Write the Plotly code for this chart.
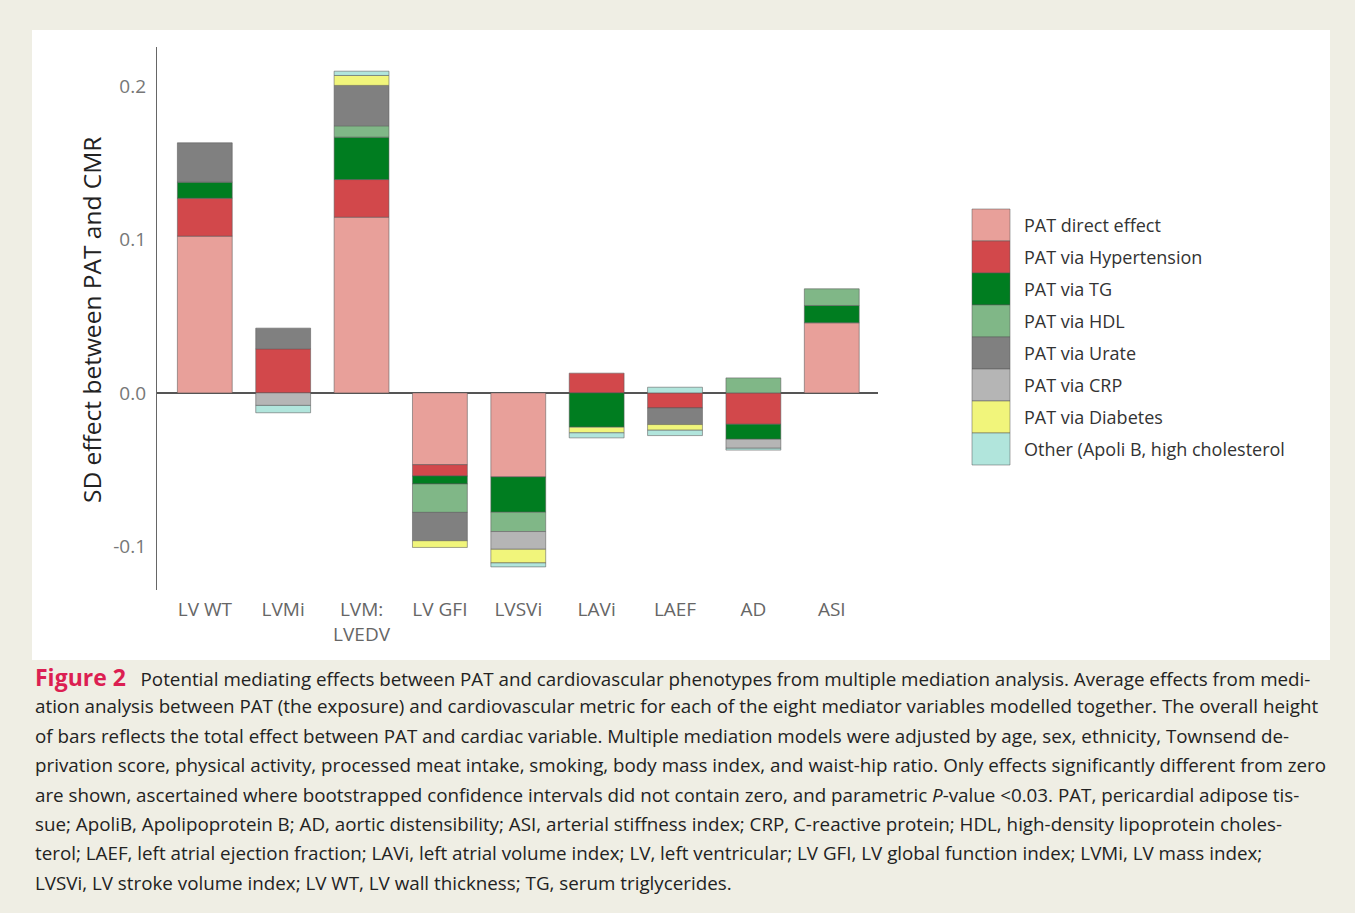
import plotly.graph_objects as go

categories = ["LV WT", "LVMi", "LVM:<br>LVEDV", "LV GFI", "LVSVi", "LAVi", "LAEF", "AD", "ASI"]

direct = [0.1024, None, 0.1148, -0.0469, -0.0549, None, None, None, 0.0458]
hypertension = [0.0248, 0.0288, 0.0246, -0.0074, None, 0.0129, -0.0098, -0.0205, None]
tg = [0.0105, None, 0.0277, -0.0052, -0.0231, -0.0224, None, -0.0098, 0.0113]
hdl = [None, None, 0.0074, -0.0186, -0.0126, None, None, 0.0098, 0.0109]
urate = [0.0257, 0.0135, 0.0264, -0.0185, None, None, -0.0109, None, None]
crp = [None, -0.0082, None, None, -0.0116, None, None, -0.0059, None]
diabetes = [None, None, 0.0065, -0.0044, -0.0089, -0.0037, -0.0037, None, None]
other = [None, -0.0048, 0.0028, None, -0.0026, -0.0033, -0.0035, -0.0012, None]
other_second = [None, None, None, None, None, None, 0.0037, None, None]

series_names = ["PAT direct effect", "PAT via Hypertension", "PAT via TG", "PAT via HDL",
                "PAT via Urate", "PAT via CRP", "PAT via Diabetes",
                "Other (Apoli B, high cholesterol"]
series_values = [direct, hypertension, tg, hdl, urate, crp, diabetes, other]
series_colors = ["#e8a09a", "#d2484b", "#007d20", "#80b787", "#808080", "#b5b5b5",
                 "#f1f57b", "#b1e5dc"]

caption_lines = [
    "<b><span style='color:#dc1f52;font-size:23px'>Figure 2</span></b>&nbsp;&nbsp; Potential mediating effects between PAT and cardiovascular phenotypes from multiple mediation analysis. Average effects from medi-",
    "ation analysis between PAT (the exposure) and cardiovascular metric for each of the eight mediator variables modelled together. The overall height",
    "of bars reflects the total effect between PAT and cardiac variable. Multiple mediation models were adjusted by age, sex, ethnicity, Townsend de-",
    "privation score, physical activity, processed meat intake, smoking, body mass index, and waist-hip ratio. Only effects significantly different from zero",
    "are shown, ascertained where bootstrapped confidence intervals did not contain zero, and parametric <i>P</i>-value &lt;0.03. PAT, pericardial adipose tis-",
    "sue; ApoliB, Apolipoprotein B; AD, aortic distensibility; ASI, arterial stiffness index; CRP, C-reactive protein; HDL, high-density lipoprotein choles-",
    "terol; LAEF, left atrial ejection fraction; LAVi, left atrial volume index; LV, left ventricular; LV GFI, LV global function index; LVMi, LV mass index;",
    "LVSVi, LV stroke volume index; LV WT, LV wall thickness; TG, serum triglycerides.",
]

W, H = 1355, 913
PL, PR, PT, PB = 157, 878, 47, 590  # plot area in pixels


def px(x):
    return (x - PL) / (PR - PL)


def py(y):
    return (PB - y) / (PB - PT)


FONT = "'Open Sans', Lato, sans-serif"
outline = dict(color="rgba(90,90,90,0.55)", width=1)

fig = go.Figure()
for name, vals, col in zip(series_names, series_values, series_colors):
    fig.add_trace(go.Bar(x=categories, y=vals, name=name, marker=dict(color=col, line=outline),
                         width=0.7, showlegend=False))
fig.add_trace(go.Bar(x=categories, y=other_second, name=series_names[-1],
                     marker=dict(color=series_colors[-1], line=outline), width=0.7, showlegend=False))

shapes = [
    dict(type="rect", xref="paper", yref="paper", x0=px(32), x1=px(1330), y0=py(660), y1=py(30),
         fillcolor="white", line=dict(width=0), layer="below"),
]
annotations = []

# manual legend
sw_top, sw_h = 209, 32
for i, (name, col) in enumerate(zip(series_names, series_colors)):
    y0 = sw_top + i * sw_h
    shapes.append(dict(type="rect", xref="paper", yref="paper", x0=px(972), x1=px(1010),
                       y0=py(y0 + sw_h), y1=py(y0), fillcolor=col,
                       line=dict(color="rgba(90,90,90,0.5)", width=1)))
    annotations.append(dict(xref="paper", yref="paper", x=px(1022), y=py(y0 + sw_h / 2), text=name,
                            showarrow=False, xanchor="left", yanchor="middle",
                            font=dict(family=FONT, size=18, color="#333")))

# y-axis title
annotations.append(dict(xref="paper", yref="paper", x=px(92), y=py(320), text="SD effect between PAT and CMR",
                        textangle=-90, showarrow=False, xanchor="center", yanchor="middle",
                        font=dict(family=FONT, size=24.5, color="#222")))

# caption
for i, line in enumerate(caption_lines):
    annotations.append(dict(xref="paper", yref="paper", x=px(33), y=py(677 + i * 29.4), text=line,
                            showarrow=False, xanchor="left", yanchor="middle",
                            font=dict(family=FONT, size=18.8, color="#222")))

fig.update_layout(
    width=W, height=H,
    margin=dict(l=PL, r=W - PR, t=PT, b=H - PB),
    paper_bgcolor="#efeee4",
    plot_bgcolor="rgba(0,0,0,0)",
    barmode="relative",
    bargap=0.3,
    shapes=shapes,
    annotations=annotations,
    xaxis=dict(showgrid=False, showline=False, ticks="", range=[-0.61, 8.59],
               tickfont=dict(family=FONT, size=19, color="#666"), ticklabelstandoff=6),
    yaxis=dict(range=[-0.1288, 0.226], showgrid=False, showline=True, linecolor="#666", linewidth=1.3,
               zeroline=True, zerolinecolor="#555", zerolinewidth=1.8, ticks="",
               tickvals=[-0.1, 0.0, 0.1, 0.2], ticktext=["-0.1", "0.0", "0.1", "0.2"],
               tickfont=dict(family=FONT, size=19, color="#777"), ticklabelstandoff=6,
               layer="above traces"),
)

fig.write_html("out.html", config={"displayModeBar": False},
               post_script="document.body.style.margin='0';")
